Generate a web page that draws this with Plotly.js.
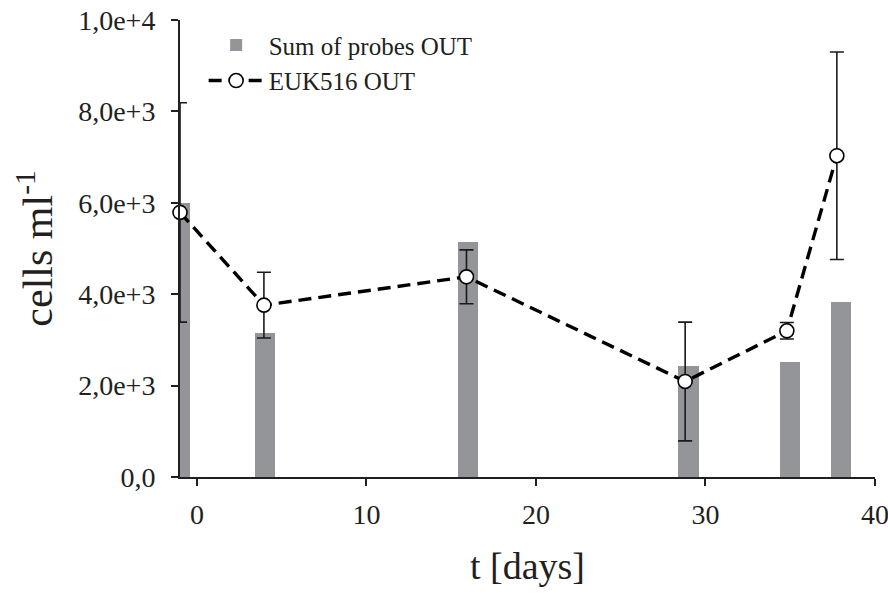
<!DOCTYPE html>
<html>
<head>
<meta charset="utf-8">
<script src="https://cdn.plot.ly/plotly-3.0.1.min.js"></script>
<style>
  html, body { margin: 0; padding: 0; background: #ffffff; }
  #chart { width: 888px; height: 597px; }
</style>
</head>
<body>
<div id="chart"></div>
<script>
// Bars: Sum of probes OUT
const barDays = [-1, 4, 16, 29, 35, 38];
const barValues = [6000, 3150, 5140, 2430, 2520, 3830];

// Line: EUK516 OUT (mean and symmetric error)
const lineDays = [-1, 3.95, 15.9, 28.8, 34.8, 37.75];
const lineValues = [5790, 3760, 4380, 2090, 3200, 7030];
const lineErrors = [2400, 720, 590, 1300, 180, 2270];

// Axis ticks
const xTickVals = [0, 10, 20, 30, 40];
const xTickText = ['0', '10', '20', '30', '40'];
const yTickVals = [0, 2000, 4000, 6000, 8000, 10000];
const yTickText = ['0,0', '2,0e+3', '4,0e+3', '6,0e+3', '8,0e+3', '1,0e+4'];

const serif = 'Liberation Serif, Times New Roman, serif';

const traces = [
  {
    type: 'bar',
    name: 'Sum of probes OUT',
    x: barDays,
    y: barValues,
    width: 1.2,
    marker: { color: '#939598', line: { width: 0 } },
    hoverinfo: 'x+y'
  },
  {
    type: 'scatter',
    mode: 'lines+markers',
    name: 'EUK516 OUT',
    x: lineDays,
    y: lineValues,
    cliponaxis: false,
    line: { color: '#000000', width: 3.4, dash: '13px,7px' },
    marker: { symbol: 'circle', size: 14, color: '#ffffff', line: { color: '#000000', width: 1.6 } },
    error_y: { type: 'data', array: lineErrors, visible: true, color: '#1a1a1a', thickness: 1.6, width: 7 }
  }
];

const layout = {
  width: 888,
  height: 597,
  margin: { l: 180, r: 13, t: 20, b: 120 },
  paper_bgcolor: '#ffffff',
  plot_bgcolor: '#ffffff',
  font: { family: serif, color: '#231f20', size: 26 },
  showlegend: true,
  legend: {
    x: 0.034, y: 0.995, xanchor: 'left', yanchor: 'top',
    bgcolor: 'rgba(0,0,0,0)',
    font: { family: serif, size: 25, color: '#231f20' },
    itemwidth: 55,
    tracegroupgap: 0
  },
  bargap: 0,
  xaxis: {
    range: [-1, 40],
    tickmode: 'array',
    tickvals: xTickVals,
    ticktext: xTickText,
    ticklabeloverflow: 'allow',
    showgrid: false,
    zeroline: false,
    showline: true,
    linecolor: '#231f20',
    linewidth: 2,
    ticks: 'outside',
    ticklen: 7,
    tickwidth: 2,
    tickcolor: '#231f20',
    tickfont: { family: serif, size: 28, color: '#231f20' },
    ticklabelstandoff: 4,
    title: { text: 't [days]', font: { family: serif, size: 38, color: '#231f20' }, standoff: 24 }
  },
  yaxis: {
    range: [0, 10000],
    tickmode: 'array',
    tickvals: yTickVals,
    ticktext: yTickText,
    ticklabeloverflow: 'allow',
    showgrid: false,
    zeroline: false,
    showline: true,
    linecolor: '#231f20',
    linewidth: 2,
    ticks: 'outside',
    ticklen: 7,
    tickwidth: 2,
    tickcolor: '#231f20',
    tickfont: { family: serif, size: 28, color: '#231f20' },
    ticklabelstandoff: 10,
    title: { text: 'cells ml<sup>-1</sup>', font: { family: serif, size: 42, color: '#231f20' }, standoff: 12 }
  }
};

Plotly.newPlot('chart', traces, layout, { displayModeBar: false, staticPlot: true });
</script>
</body>
</html>
